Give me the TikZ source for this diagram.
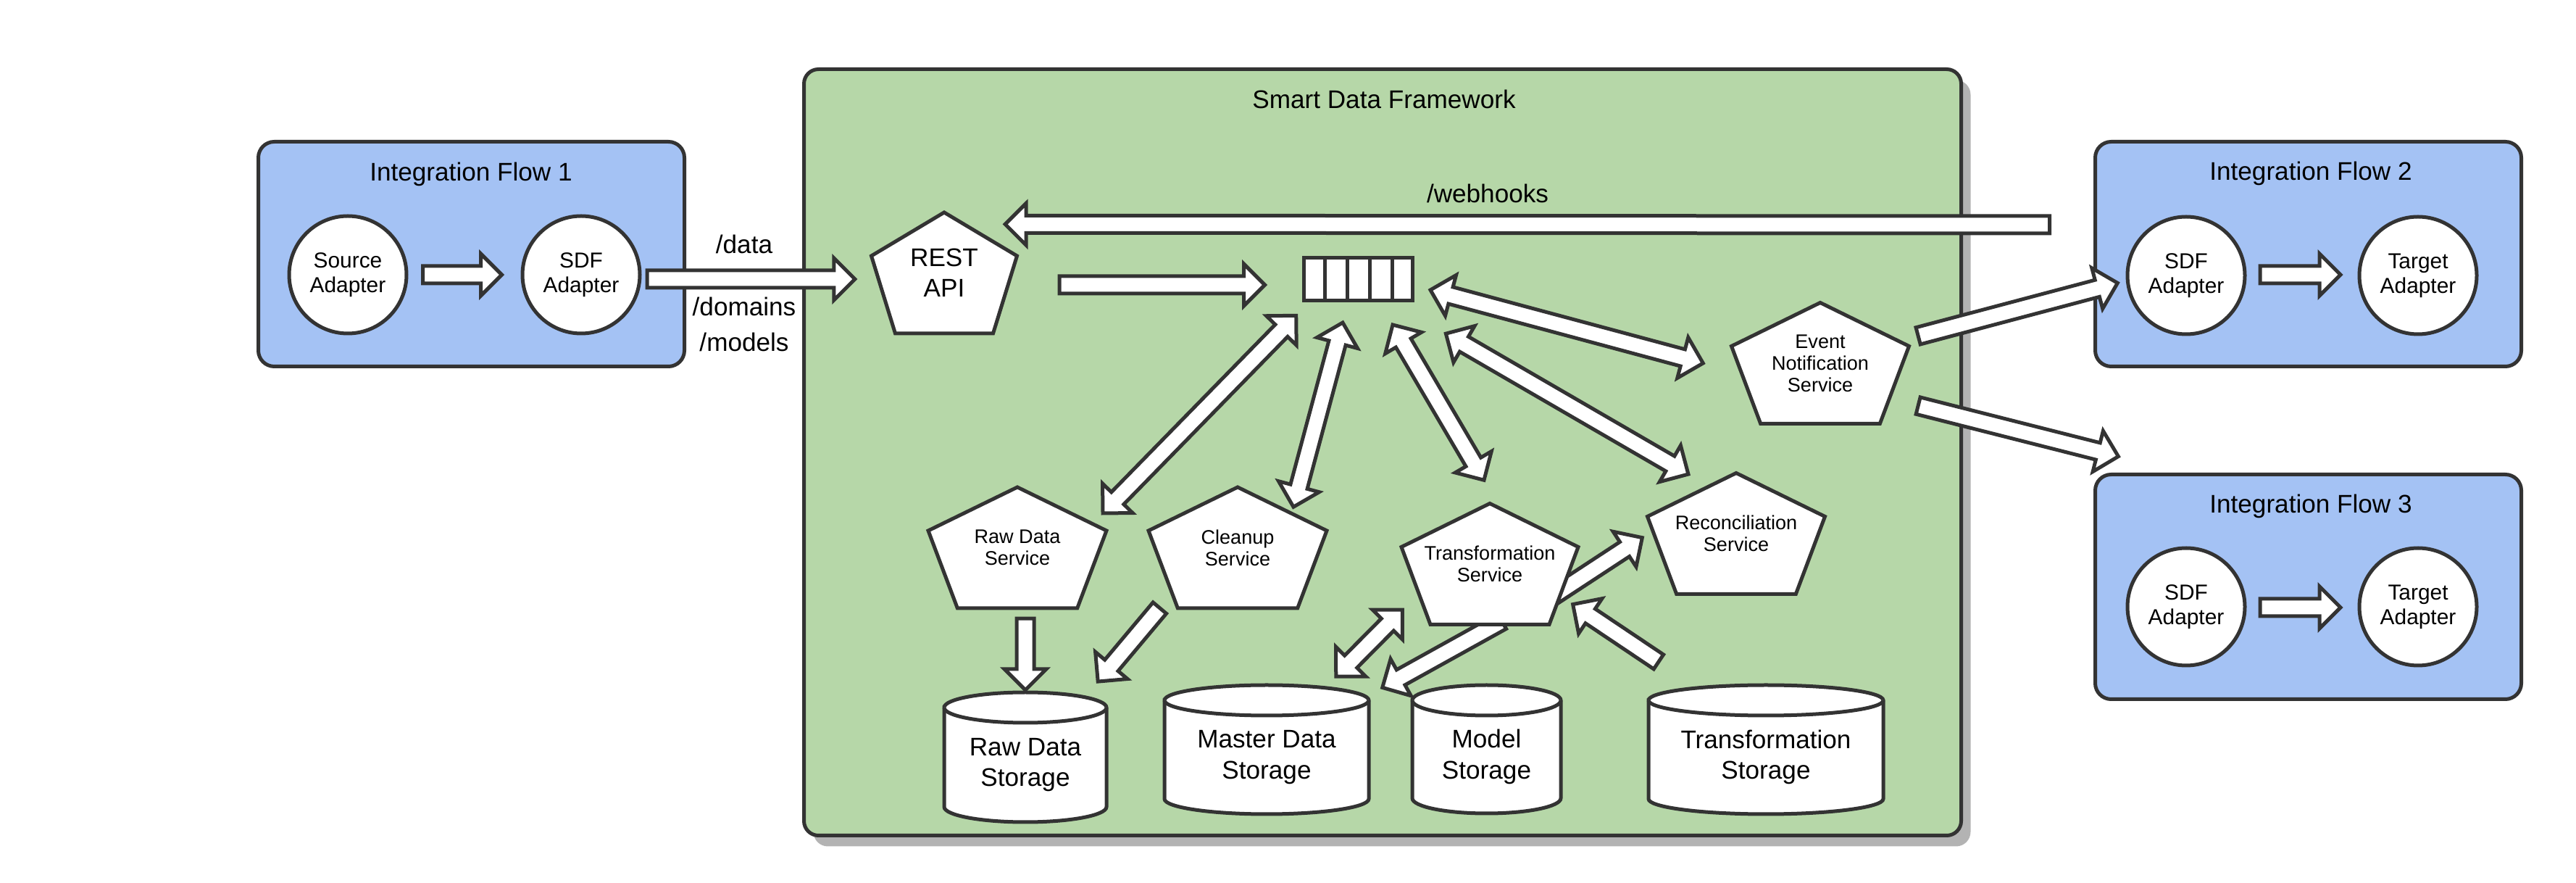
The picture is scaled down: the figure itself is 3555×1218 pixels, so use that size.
\documentclass[tikz,border=0pt]{standalone}
\usepackage{fontspec}
\setmainfont{Liberation Sans}
\usetikzlibrary{calc,positioning,shapes.arrows,shadows}

\definecolor{framegreen}{RGB}{182,215,168}
\definecolor{flowblue}{RGB}{164,194,244}
\definecolor{inkgray}{RGB}{51,51,51}
\definecolor{shadegray}{RGB}{179,179,179}

\pgfdeclarelayer{back}
\pgfdeclarelayer{pipes}
\pgfsetlayers{back,pipes,main}

\tikzset{
  flowbox/.style    = {rectangle, rounded corners=2.2mm, draw=inkgray, line width=0.5mm,
                       fill=flowblue, minimum width=58.8mm, minimum height=31mm},
  sdfframe/.style   = {rectangle, rounded corners=2mm, draw=inkgray, line width=0.5mm,
                       fill=framegreen, minimum width=159.7mm, minimum height=105.7mm,
                       drop shadow={shadow xshift=1.3mm, shadow yshift=-1.5mm,
                                    fill=shadegray, opacity=1}},
  boxtitle/.style   = {font=\fontsize{10}{12}\selectfont},
  adapter/.style    = {circle, draw=inkgray, line width=0.5mm, fill=white,
                       minimum size=16.2mm, inner sep=0pt, align=center,
                       font=\fontsize{8.5}{9.7}\selectfont},
  svc/.style        = {rectangle, minimum height=16.7mm, inner sep=0pt, align=center,
                       font=\fontsize{7.7}{8.5}\selectfont},
  svcshape/.style   = {draw=inkgray, line width=0.5mm, fill=white},
  store/.style      = {rectangle, inner sep=0pt, align=center,
                       font=\fontsize{10}{12}\selectfont},
  storeshape/.style = {draw=inkgray, line width=0.5mm, fill=white},
  queue/.style      = {rectangle, draw=inkgray, line width=0.5mm, fill=white,
                       minimum width=15mm, minimum height=5.9mm, inner sep=0pt},
  pathlabel/.style  = {font=\fontsize{10}{12}\selectfont},
  arrowbox/.style   = {draw=inkgray, fill=white, line width=0.5mm, inner xsep=0pt,
                       inner ysep=0.95mm, minimum width=0pt},
  pipe/.style       = {to path={let \p1=(\tikztostart), \p2=(\tikztotarget),
                         \n1={atan2(\y2-\y1,\x2-\x1)}, \n2={veclen(\x2-\x1,\y2-\y1)} in
                         node[arrowbox, single arrow, single arrow head extend=1.7mm,
                              single arrow tip angle=90,
                              minimum height=\n2, rotate=\n1, anchor=tail] at (\p1) {}}},
  twopipe/.style    = {to path={let \p1=(\tikztostart), \p2=(\tikztotarget),
                         \n1={atan2(\y2-\y1,\x2-\x1)}, \n2={veclen(\x2-\x1,\y2-\y1)} in
                         node[arrowbox, double arrow, double arrow head extend=1.7mm,
                              double arrow tip angle=90,
                              minimum height=\n2, rotate=\n1] at ($(\p1)!.5!(\p2)$) {}}}
}

\begin{document}
\begin{tikzpicture}[x=0.1mm, y=-0.1mm]
\useasboundingbox (0,0) rectangle (3555,1218);

% frames
\begin{pgfonlayer}{back}
  \node[sdfframe] (sdf) at (1908,624) {};
  \node[flowbox] (flow1) at (650.5,350.5) {};
  \node[flowbox] (flow2) at (3185.5,350.5) {};
  \node[flowbox] (flow3) at (3185.5,809.5) {};
\end{pgfonlayer}

\node[boxtitle] (sdftitle) at (1910,137) {Smart Data Framework};
\node[boxtitle] (flow1title) at (650,240) {Integration Flow 1};
\node[boxtitle] (flow2title) at (3189,239) {Integration Flow 2};
\node[boxtitle] (flow3title) at (3189,698) {Integration Flow 3};

% adapters
\node[adapter] (src1) at (480,379) {Source\\Adapter};
\node[adapter] (sdf1) at (802,379) {SDF\\Adapter};
\node[adapter] (sdf2) at (3017,380) {SDF\\Adapter};
\node[adapter] (tgt2) at (3337,380) {Target\\Adapter};
\node[adapter] (sdf3) at (3017,837) {SDF\\Adapter};
\node[adapter] (tgt3) at (3337,837) {Target\\Adapter};

% services
\draw[svcshape] (1303,293) -- (1403.5,353) -- (1370.5,460) -- (1235.5,460) -- (1202.5,353) -- cycle;
\node[svc, minimum width=20.1mm, font=\fontsize{10}{11.9}\selectfont] (rest) at (1303,376.5) {REST\\API};
\foreach \nm/\x/\y/\w/\txt in {rawsvc/1404/755.5/246/{Raw Data\\Service},
    cleansvc/1708/755.5/246/{Cleanup\\Service},
    transsvc/2056/778/244/{Transformation\\Service},
    recsvc/2396/736/245/{Reconciliation\\Service},
    eventsvc/2512/501/245/{Event\\Notification\\Service}}{
  \draw[svcshape] (\x,\y-83.5) -- (\x+\w/2,\y-23.5) -- (\x+0.336*\w,\y+83.5)
    -- (\x-0.336*\w,\y+83.5) -- (\x-\w/2,\y-23.5) -- cycle;
  \node[svc, minimum width=\w*0.1mm] (\nm) at (\x,\y) {\txt};
}

% storages
\foreach \nm/\x/\y/\w/\h/\txt in {rawdb/1415/955/224/179/{Raw Data\\Storage},
    masterdb/1748/945/282/178/{Master Data\\Storage},
    modeldb/2051.5/945/205/177/{Model\\Storage},
    transdb/2437/945/324/178/{Transformation\\Storage}}{
  \draw[storeshape] (\x-\w/2,\y+21) -- (\x-\w/2,\y+\h-21)
    arc[start angle=180, end angle=360, x radius=\w*0.05mm, y radius=2.1mm]
    -- (\x+\w/2,\y+21)
    arc[start angle=0, end angle=180, x radius=\w*0.05mm, y radius=2.1mm] -- cycle;
  \draw[storeshape] (\x-\w/2,\y+21)
    arc[start angle=180, end angle=360, x radius=\w*0.05mm, y radius=2.1mm];
  \node[store, minimum width=\w*0.1mm, minimum height=(\h-21)*0.1mm] (\nm) at (\x,\y+21+\h/2-10.5) {\txt};
}

% queue
\node[queue] (queue) at (1874.5,385) {};
\foreach \i in {1,...,4}
  \draw[inkgray, line width=0.5mm] ($(queue.north west)!\i/5!(queue.north east)$)
    -- ($(queue.south west)!\i/5!(queue.south east)$);

% labels
\node[pathlabel] (datalbl) at (1027,337) {/data};
\node[pathlabel] (domlbl) at (1027,423) {/domains};
\node[pathlabel] (modlbl) at (1027,472) {/models};
\node[pathlabel] (hooklbl) at (2053,267) {/webhooks};

% block arrows
\begin{pgfonlayer}{pipes}
  \path ($(src1.east)+(17.5,0)$) to[pipe] ($(sdf1.west)+(-28.5,0)$);
  \path ($(sdf2.east)+(16,-1)$) to[pipe] ($(tgt2.west)+(-26,-1)$);
  \path ($(sdf3.east)+(16,1)$) to[pipe] ($(tgt3.west)+(-26,1)$);
  \path ($(sdf1.east)+(5,6)$) to[pipe] ($(rest.west)+(-24.5,8.5)$);
  \path ($(rest.east)+(55.5,16.5)$) to[pipe] ($(queue.west)+(-54,8)$);
  \path ($(flow2.west)+(-58,-40.5)$) to[pipe] ($(rest.north east)+(-14.5,17)$);
  \path ($(queue.south west)+(-8,18)$) to[twopipe] ($(rawsvc.north east)+(-6,37)$);
  \path ($(queue.south)+(-21.5,28)$) to[twopipe] ($(cleansvc.north)+(77,28)$);
  \path ($(queue.south)+(47.5,31)$) to[twopipe] ($(transsvc.north)+(-8,-31.5)$);
  \path ($(queue.south east)+(43,43)$) to[twopipe] ($(recsvc.north west)+(57.5,2.5)$);
  \path ($(queue.east)+(22,15)$) to[twopipe] ($(eventsvc.west)+(-38.5,0)$);
  \path ($(eventsvc.east)+(9.5,-37)$) to[pipe] ($(sdf2.west)+(-13.5,11)$);
  \path ($(eventsvc.east)+(9.5,58)$) to[pipe] ($(flow3.north west)+(32,-23)$);
  \path ($(rawsvc.south)+(11,11)$) to[pipe] ($(rawdb.north)+(0,-26)$);
  \path ($(cleansvc.south)+(-106,-3)$) to[pipe] ($(rawdb.north east)+(-11,-37)$);
  \path ($(transsvc.east)+(-38,46)$) to[pipe] ($(recsvc.west)+(-8.5,7)$);
  \path ($(transdb.north)+(-146,-51)$) to[pipe] ($(transsvc.east)+(-6,57)$);
  \path ($(transsvc.south)+(19,-6.5)$) to[pipe] ($(modeldb.north west)+(-38.5,-18)$);
  \path ($(masterdb.north east)+(-46,-32)$) to[twopipe] ($(transsvc.west)+(2,63)$);
\end{pgfonlayer}
\end{tikzpicture}
\end{document}
